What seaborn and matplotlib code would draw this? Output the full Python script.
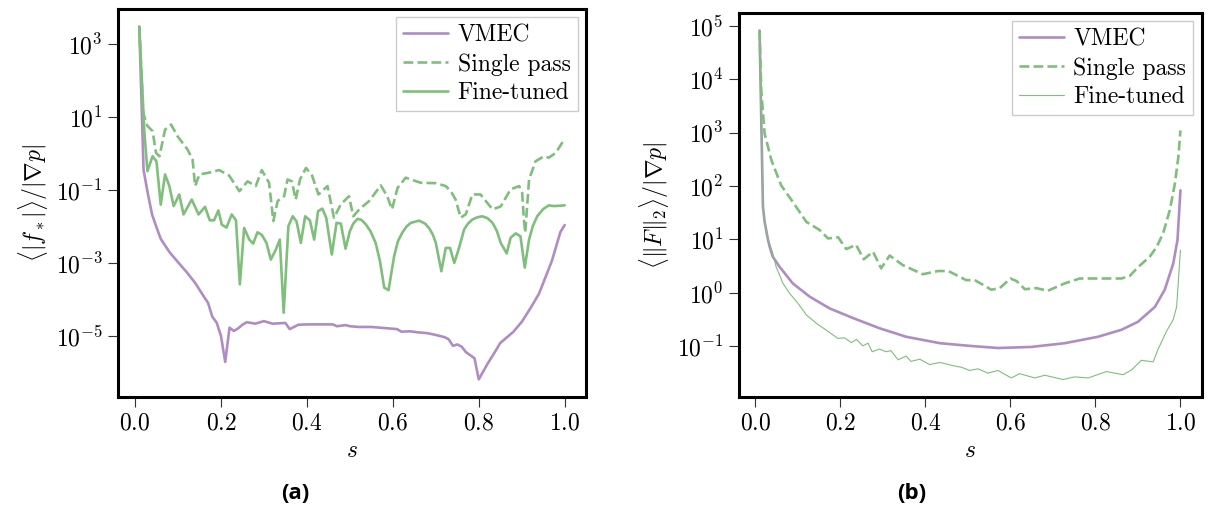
import numpy as np
import pandas as pd
import matplotlib
matplotlib.use("Agg")
import matplotlib.pyplot as plt
from matplotlib.ticker import NullLocator
import seaborn as sns

# values, stored as log10 of the y quantity

# (a) <|f*|>/|grad p|
s_vmec_a = [0.01, 0.02, 0.03, 0.04, 0.05, 0.06, 0.08, 0.10, 0.12, 0.14, 0.16, 0.17, 0.18, 0.19,
            0.20, 0.21, 0.22, 0.23, 0.24, 0.25, 0.26, 0.28, 0.30, 0.32, 0.35, 0.36, 0.38, 0.40,
            0.46, 0.47, 0.49, 0.50, 0.52, 0.55, 0.59, 0.61, 0.62, 0.64, 0.66, 0.68, 0.70, 0.72,
            0.73, 0.74, 0.75, 0.76, 0.77, 0.79, 0.80, 0.82, 0.84, 0.85, 0.87, 0.88, 0.90, 0.92,
            0.94, 0.95, 0.96, 0.97, 0.98, 0.99, 1.00]
log_vmec_a = [3.49, -0.45, -1.10, -1.68, -2.02, -2.34, -2.70, -2.98, -3.25, -3.55, -3.92, -4.10, -4.48, -4.64,
              -5.00, -5.72, -4.78, -4.87, -4.80, -4.70, -4.63, -4.67, -4.60, -4.67, -4.65, -4.82, -4.70, -4.69,
              -4.69, -4.74, -4.71, -4.74, -4.76, -4.76, -4.80, -4.82, -4.89, -4.88, -4.91, -4.93, -4.98, -5.04,
              -5.10, -5.28, -5.24, -5.30, -5.45, -5.62, -6.20, -5.78, -5.40, -5.20, -5.00, -4.90, -4.62, -4.25,
              -3.85, -3.55, -3.25, -2.95, -2.55, -2.15, -1.96]

s_single_a = [0.01, 0.019, 0.029, 0.041, 0.049, 0.057, 0.070, 0.084, 0.099, 0.122, 0.134, 0.140, 0.150,
              0.173, 0.196, 0.219, 0.243, 0.262, 0.281, 0.295, 0.312, 0.322, 0.332, 0.347, 0.355, 0.365,
              0.374, 0.384, 0.398, 0.412, 0.427, 0.448, 0.463, 0.479, 0.498, 0.508, 0.522, 0.545, 0.572,
              0.587, 0.598, 0.611, 0.630, 0.665, 0.700, 0.723, 0.735, 0.746, 0.758, 0.770, 0.785, 0.804,
              0.832, 0.851, 0.874, 0.894, 0.901, 0.905, 0.908, 0.917, 0.932, 0.952, 0.963, 0.979, 1.00]
log_single_a = [3.49, 1.12, 0.76, 0.62, 0.02, -0.07, 0.66, 0.80, 0.48, 0.12, -0.16, -0.89, -0.57,
                -0.52, -0.45, -0.60, -1.03, -0.76, -0.89, -0.45, -0.80, -1.85, -1.30, -1.17, -0.71, -0.76,
                -1.26, -0.71, -0.39, -0.60, -1.12, -0.89, -1.76, -1.39, -1.17, -1.72, -1.53, -1.30, -0.87,
                -1.17, -1.53, -0.94, -0.66, -0.80, -0.81, -0.89, -1.03, -1.26, -1.76, -1.66, -1.12, -1.12,
                -1.53, -1.45, -0.98, -0.89, -1.07, -1.81, -2.17, -0.71, -0.21, -0.07, -0.11, 0.02, 0.41]

s_fine_a = [0.01, 0.022, 0.029, 0.041, 0.050, 0.060, 0.070, 0.080, 0.090, 0.103, 0.113, 0.132, 0.148,
            0.163, 0.174, 0.184, 0.194, 0.202, 0.213, 0.225, 0.235, 0.244, 0.254, 0.266, 0.275, 0.285,
            0.295, 0.306, 0.316, 0.328, 0.337, 0.346, 0.357, 0.367, 0.376, 0.386, 0.396, 0.407, 0.417,
            0.426, 0.436, 0.445, 0.458, 0.469, 0.479, 0.490, 0.500, 0.508, 0.518, 0.527, 0.537, 0.548,
            0.560, 0.570, 0.580, 0.590, 0.603, 0.612, 0.622, 0.632, 0.642, 0.661, 0.675, 0.684, 0.693,
            0.700, 0.713, 0.723, 0.733, 0.743, 0.754, 0.766, 0.775, 0.785, 0.796, 0.808, 0.820, 0.832,
            0.842, 0.851, 0.865, 0.874, 0.886, 0.897, 0.907, 0.917, 0.926, 0.936, 0.950, 0.963, 0.975, 1.00]
log_fine_a = [3.49, 0.57, -0.48, -0.07, -0.21, -1.40, -0.57, -0.89, -1.44, -1.12, -1.67, -1.26, -1.67,
              -1.46, -1.83, -1.83, -1.56, -1.95, -2.03, -1.67, -1.83, -3.59, -2.04, -2.36, -2.47, -2.16,
              -2.23, -2.45, -2.91, -2.63, -2.36, -4.37, -1.99, -1.72, -1.86, -2.45, -1.72, -1.83, -2.36,
              -1.58, -1.51, -1.76, -2.77, -1.90, -1.92, -2.61, -2.13, -1.92, -1.79, -1.82, -1.94, -2.13,
              -2.45, -2.95, -3.68, -3.75, -2.82, -2.40, -2.17, -2.00, -1.90, -1.84, -1.92, -2.04, -2.22,
              -2.45, -3.23, -2.59, -2.59, -3.00, -2.59, -2.08, -1.92, -1.81, -1.75, -1.72, -1.77, -1.90,
              -2.12, -2.45, -2.74, -2.31, -2.19, -2.27, -3.13, -2.36, -1.98, -1.72, -1.52, -1.42, -1.44, -1.42]

# (b) <||F||_2>/|grad p|
s_vmec_b = [0.01, 0.018, 0.022, 0.030, 0.034, 0.041, 0.057, 0.088, 0.128, 0.175, 0.230, 0.292, 0.355,
            0.434, 0.504, 0.571, 0.649, 0.728, 0.806, 0.861, 0.900, 0.940, 0.963, 0.983, 0.993, 1.00]
log_vmec_b = [4.91, 1.61, 1.33, 0.99, 0.86, 0.68, 0.49, 0.18, -0.07, -0.29, -0.47, -0.66, -0.82,
              -0.94, -0.99, -1.03, -1.01, -0.94, -0.82, -0.69, -0.54, -0.26, 0.06, 0.55, 0.99, 1.92]

s_single_b = [0.01, 0.014, 0.022, 0.038, 0.061, 0.085, 0.120, 0.151, 0.171, 0.195, 0.214, 0.237, 0.255,
              0.277, 0.296, 0.316, 0.347, 0.394, 0.430, 0.454, 0.496, 0.516, 0.536, 0.555, 0.575, 0.600,
              0.615, 0.634, 0.661, 0.688, 0.728, 0.763, 0.861, 0.881, 0.900, 0.928, 0.944, 0.959, 0.975,
              0.987, 0.995, 1.00]
log_single_b = [4.91, 3.79, 2.98, 2.48, 2.01, 1.74, 1.33, 1.18, 1.02, 1.04, 0.82, 0.90, 0.63,
                0.77, 0.46, 0.70, 0.52, 0.35, 0.41, 0.41, 0.24, 0.24, 0.15, 0.06, 0.09, 0.27,
                0.22, 0.07, 0.09, 0.04, 0.18, 0.27, 0.27, 0.32, 0.48, 0.68, 0.86, 1.11, 1.55,
                2.05, 2.54, 3.04]

s_fine_b = [0.01, 0.018, 0.026, 0.041, 0.049, 0.065, 0.081, 0.100, 0.120, 0.144, 0.175, 0.194, 0.210,
            0.226, 0.238, 0.253, 0.265, 0.275, 0.292, 0.308, 0.319, 0.336, 0.355, 0.366, 0.387, 0.410,
            0.434, 0.465, 0.485, 0.504, 0.524, 0.547, 0.571, 0.602, 0.622, 0.657, 0.681, 0.724, 0.751,
            0.783, 0.826, 0.865, 0.885, 0.908, 0.936, 0.947, 0.967, 0.983, 0.991, 1.00]
log_fine_b = [4.91, 1.61, 1.11, 0.74, 0.49, 0.18, -0.01, -0.19, -0.41, -0.57, -0.74, -0.85, -0.84,
              -0.93, -0.87, -0.99, -0.94, -1.10, -1.05, -1.10, -1.08, -1.25, -1.18, -1.28, -1.24, -1.34,
              -1.30, -1.36, -1.39, -1.45, -1.42, -1.50, -1.45, -1.59, -1.51, -1.59, -1.54, -1.62, -1.57,
              -1.59, -1.47, -1.53, -1.44, -1.26, -1.29, -1.06, -0.72, -0.50, -0.26, 0.80]

purple = "#af8dc3"
green = "#7fbf7b"

sns.set_theme(style="ticks")
plt.rcParams["font.family"] = ["cmr10", "DejaVu Serif"]
plt.rcParams["mathtext.fontset"] = "cm"
plt.rcParams["axes.formatter.use_mathtext"] = True
plt.rcParams["font.size"] = 17
plt.rcParams["text.color"] = "black"
plt.rcParams["axes.labelcolor"] = "black"

fig = plt.figure(figsize=(12.07, 5.11), dpi=100)
ax_a = fig.add_axes([118 / 1207, 114 / 511, 468 / 1207, 388 / 511])
ax_b = fig.add_axes([738.5 / 1207, 114 / 511, 463 / 1207, 384 / 511])


def draw(ax, series, fine_lw):
    for (s, logy), label, color, ls, lw in zip(
            series,
            ["VMEC", "Single pass", "Fine-tuned"],
            [purple, green, green],
            ["-", "--", "-"],
            [1.9, 1.9, fine_lw]):
        df = pd.DataFrame({"s": s, "y": 10.0 ** np.array(logy)})
        sns.lineplot(data=df, x="s", y="y", ax=ax, color=color, linestyle=ls,
                     linewidth=lw, label=label, errorbar=None)
    ax.set_yscale("log")
    ax.yaxis.set_minor_locator(NullLocator())
    ax.set_xticks([0.0, 0.2, 0.4, 0.6, 0.8, 1.0])
    ax.set_xlabel("$s$", fontsize=17, labelpad=4)
    ax.tick_params(axis="both", length=7, width=0.8, color="#333333",
                   labelsize=17, pad=4, labelcolor="black")
    for sp in ax.spines.values():
        sp.set_linewidth(2.2)
        sp.set_color("black")
    leg = ax.legend(loc="upper right", fancybox=False, edgecolor="#cccccc", framealpha=1,
                    fontsize=17, handlelength=1.9, handletextpad=0.4, borderpad=0.3,
                    labelspacing=0.28, borderaxespad=0.35)
    leg.get_frame().set_linewidth(1.0)


draw(ax_a, [(s_vmec_a, log_vmec_a), (s_single_a, log_single_a), (s_fine_a, log_fine_a)], 1.9)
ax_a.set_yticks([1e3, 1e1, 1e-1, 1e-3, 1e-5])
ax_a.set_ylabel(r"$\langle|f_*|\rangle/|\nabla p|$", fontsize=17, labelpad=4)

draw(ax_b, [(s_vmec_b, log_vmec_b), (s_single_b, log_single_b), (s_fine_b, log_fine_b)], 0.8)
ax_b.set_yticks([1e5, 1e4, 1e3, 1e2, 1e1, 1e0, 1e-1])
ax_b.set_ylabel(r"$\langle\|F\|_2\rangle/|\nabla p|$", fontsize=17, labelpad=4)

for xc, txt in [(295, "(a)"), (912, "(b)")]:
    fig.text(xc / 1207, 1 - 493 / 511, txt, ha="center", va="center", color="black",
             fontsize=16, fontweight="bold", family=["Open Sans", "DejaVu Sans"])

fig.savefig("out.png", dpi=100)
